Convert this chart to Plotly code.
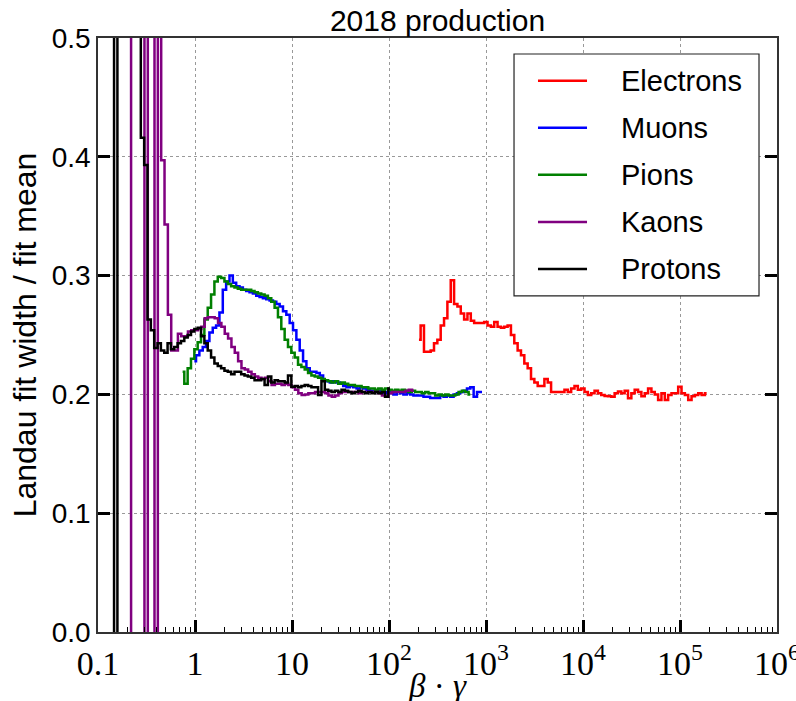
import numpy as np
import plotly.graph_objects as go

# momentum histogram binning (GeV), log-spaced; beta*gamma = p / m
P_EDGES = np.logspace(-1, 2, 88)
P_CENTERS = np.sqrt(P_EDGES[:-1] * P_EDGES[1:])

names = ["Electrons", "Muons", "Pions", "Kaons", "Protons"]
colors = ["#ff0000", "#0000ff", "#008000", "#800080", "#000000"]
masses = [0.000511, 0.10566, 0.13957, 0.49368, 0.93827]  # GeV

electrons = [0.246, 0.258, 0.236, 0.236, 0.237, 0.243, 0.246, 0.258, 0.264, 0.278,
             0.296, 0.276, 0.274, 0.268, 0.263, 0.268, 0.262, 0.260, 0.260, 0.260,
             0.261, 0.258, 0.257, 0.261, 0.257, 0.256, 0.257, 0.258, 0.250, 0.243,
             0.237, 0.233, 0.226, 0.222, 0.213, 0.210, 0.207, 0.207, 0.213, 0.210,
             0.202, 0.202, 0.202, 0.202, 0.204, 0.202, 0.205, 0.207, 0.204, 0.205,
             0.202, 0.1995, 0.201, 0.203, 0.201, 0.1995, 0.1987, 0.1985, 0.198, 0.201,
             0.2025, 0.201, 0.203, 0.1967, 0.201, 0.204, 0.202, 0.1985, 0.201, 0.205,
             0.202, 0.200, 0.1953, 0.201, 0.1953, 0.1995, 0.201, 0.201, 0.2065, 0.201,
             0.1995, 0.1953, 0.1985, 0.1995, 0.201, 0.1995, 0.201]

muons = [0.228, 0.233, 0.237, 0.240, 0.245, 0.252, 0.256, 0.258, 0.269, 0.288,
         0.295, 0.300, 0.294, 0.291, 0.290, 0.288, 0.287, 0.286, 0.285, 0.283,
         0.282, 0.281, 0.280, 0.279, 0.278, 0.276, 0.274, 0.270, 0.267, 0.260,
         0.254, 0.246, 0.237, 0.228, 0.222, 0.219, 0.219, 0.218, 0.216, 0.212,
         0.211, 0.210, 0.211, 0.210, 0.209, 0.207, 0.206, 0.207, 0.206, 0.205,
         0.206, 0.205, 0.204, 0.203, 0.202, 0.203, 0.202, 0.201, 0.202, 0.201,
         0.200, 0.202, 0.201, 0.200, 0.201, 0.200, 0.199, 0.199, 0.199, 0.198,
         0.198, 0.197, 0.197, 0.197, 0.199, 0.198, 0.199, 0.198, 0.200, 0.201,
         0.202, 0.203, 0.205, 0.206, 0.198, 0.202, 0.202]

pions = [0.219, 0.209, 0.222, 0.230, 0.238, 0.244, 0.250, 0.263, 0.273, 0.284,
         0.295, 0.299, 0.298, 0.295, 0.293, 0.291, 0.290, 0.289, 0.288, 0.288,
         0.288, 0.287, 0.286, 0.285, 0.284, 0.283, 0.281, 0.278, 0.273, 0.265,
         0.255, 0.246, 0.240, 0.235, 0.231, 0.225, 0.223, 0.221, 0.218, 0.216,
         0.215, 0.214, 0.213, 0.212, 0.211, 0.210, 0.211, 0.209, 0.210, 0.209,
         0.208, 0.208, 0.207, 0.207, 0.206, 0.206, 0.205, 0.205, 0.204, 0.205,
         0.204, 0.205, 0.204, 0.203, 0.204, 0.203, 0.204, 0.203, 0.202, 0.203,
         0.202, 0.202, 0.201, 0.202, 0.201, 0.201, 0.199, 0.200, 0.199, 0.200,
         0.199, 0.199, 0.200, 0.202, 0.203, 0.202, 0.200]

kaons = [-0.5, 1.0, 1.0, 1.0, 1.0, -0.5, 1.0, 1.0, -0.5, 1.0,
         0.397, 0.343, 0.267, 0.237, 0.237, 0.251, 0.249, 0.249, 0.253, 0.254,
         0.254, 0.255, 0.257, 0.264, 0.265, 0.265, 0.264, 0.260, 0.257, 0.251,
         0.247, 0.240, 0.235, 0.228, 0.222, 0.221, 0.219, 0.217, 0.215, 0.214,
         0.213, 0.214, 0.211, 0.208, 0.209, 0.209, 0.208, 0.209, 0.208, 0.206,
         0.204, 0.201, 0.1995, 0.200, 0.201, 0.201, 0.202, 0.202, 0.202, 0.201,
         0.199, 0.198, 0.199, 0.201, 0.202, 0.202, 0.202, 0.202, 0.202, 0.201,
         0.202, 0.202, 0.202, 0.202, 0.202, 0.201, 0.199, 0.198, 0.201, 0.202,
         0.202, 0.202, 0.202, 0.203, 0.204, 0.203, None]

protons = [1.0, 1.0, 1.0, 1.0, -0.5, 1.0, 1.0, 1.0, 1.0, 1.0,
           1.0, 1.0, 0.416, 0.393, 0.263, 0.254, 0.239, 0.243, 0.237, 0.235,
           0.243, 0.238, 0.240, 0.243, 0.245, 0.248, 0.250, 0.253, 0.255, 0.256,
           0.249, 0.243, 0.237, 0.231, 0.226, 0.224, 0.222, 0.220, 0.219, 0.217,
           0.219, 0.219, 0.217, 0.216, 0.215, 0.214, 0.212, 0.212, 0.213, 0.208,
           0.215, 0.210, 0.212, 0.211, 0.211, 0.210, 0.216, 0.2065, 0.207, 0.206,
           0.207, 0.208, 0.207, 0.206, 0.206, 0.1995, 0.211, 0.204, 0.203, 0.202,
           0.203, 0.202, 0.204, 0.203, 0.202, 0.201, 0.202, 0.203, 0.202, 0.201,
           0.202, 0.201, 0.202, 0.201, 0.202, 0.198, 0.205]

series = [electrons, muons, pions, kaons, protons]

x_tickvals = [0.1, 1, 10, 100, 1e3, 1e4, 1e5, 1e6]
x_ticktext = ["0.1", "1", "10", "10<sup>2</sup>", "10<sup>3</sup>",
              "10<sup>4</sup>", "10<sup>5</sup>", "10<sup>6</sup>"]
y_tickvals = [0.0, 0.1, 0.2, 0.3, 0.4, 0.5]
y_ticktext = ["0.0", "0.1", "0.2", "0.3", "0.4", "0.5"]
x_minor = [m * 10.0 ** d for d in range(-1, 6) for m in range(2, 10)]

SANS = "Liberation Sans"
SERIF = "Liberation Serif"

fig = go.Figure()
for name, color, mass, ys in zip(names, colors, masses, series):
    fig.add_trace(go.Scatter(
        x=P_CENTERS / mass, y=ys, mode="lines", name=name,
        line=dict(color=color, width=2.5, shape="hvh", simplify=False),
        showlegend=False))

# legend drawn as a framed box with sample lines
shapes = [dict(type="rect", xref="paper", yref="paper",
               x0=0.6127, x1=0.9735, y0=0.5657, y1=0.9731,
               line=dict(color="#222222", width=1.2), fillcolor="white", layer="above")]
annotations = []
row_y = [0.9281, 0.8490, 0.7699, 0.6902, 0.6111]
for name, color, yy in zip(names, colors, row_y):
    shapes.append(dict(type="line", xref="paper", yref="paper",
                       x0=0.648, x1=0.7202, y0=yy, y1=yy,
                       line=dict(color=color, width=2.5), layer="above"))
    annotations.append(dict(xref="paper", yref="paper", x=0.7673, y=yy,
                            xanchor="left", yanchor="middle", showarrow=False,
                            text=name, font=dict(family=SANS, size=29, color="black")))

# x-axis title placed below the tick labels, near the bottom edge
annotations.append(dict(xref="paper", yref="paper", x=0.5, y=-0.1155,
                        xanchor="center", yanchor="bottom", showarrow=False,
                        yshift=-5,
                        text="<i>β</i> · <i>γ</i>",
                        font=dict(family=SERIF, size=33, color="black")))

fig.update_layout(
    width=796, height=701,
    margin=dict(l=98, r=19, t=38, b=69, autoexpand=False),
    paper_bgcolor="white", plot_bgcolor="white",
    title=dict(text="2018 production", x=0.5, xref="paper", xanchor="center",
               y=1 - 20 / 701, yref="container", yanchor="middle",
               font=dict(family=SANS, size=30, color="black")),
    shapes=shapes, annotations=annotations,
    xaxis=dict(type="log", range=[-1, 6], tickmode="array",
               tickvals=x_tickvals, ticktext=x_ticktext, automargin=False,
               ticklabeloverflow="allow",
               ticks="inside", ticklen=12, tickwidth=3, tickcolor="black",
               showline=True, linecolor="#333333", linewidth=1.5, mirror=True,
               showgrid=True, gridcolor="#999999", griddash="dot", gridwidth=1,
               zeroline=False,
               minor=dict(tickmode="array", tickvals=x_minor, ticks="inside",
                          ticklen=5, tickwidth=1, tickcolor="black", showgrid=False),
               tickfont=dict(family=SERIF, size=34, color="black")),
    yaxis=dict(range=[0, 0.5], tickmode="array", tickvals=y_tickvals, ticktext=y_ticktext,
               automargin=False,
               ticks="inside", ticklen=12, tickwidth=3, tickcolor="black",
               showline=True, linecolor="#333333", linewidth=1.5, mirror="ticks",
               showgrid=True, gridcolor="#999999", griddash="dot", gridwidth=1,
               zeroline=False,
               tickfont=dict(family=SANS, size=28, color="black"),
               title=dict(text="Landau fit width / fit mean", standoff=6,
                          font=dict(family=SANS, size=32, color="black"))),
)

fig.write_html("out.html")
